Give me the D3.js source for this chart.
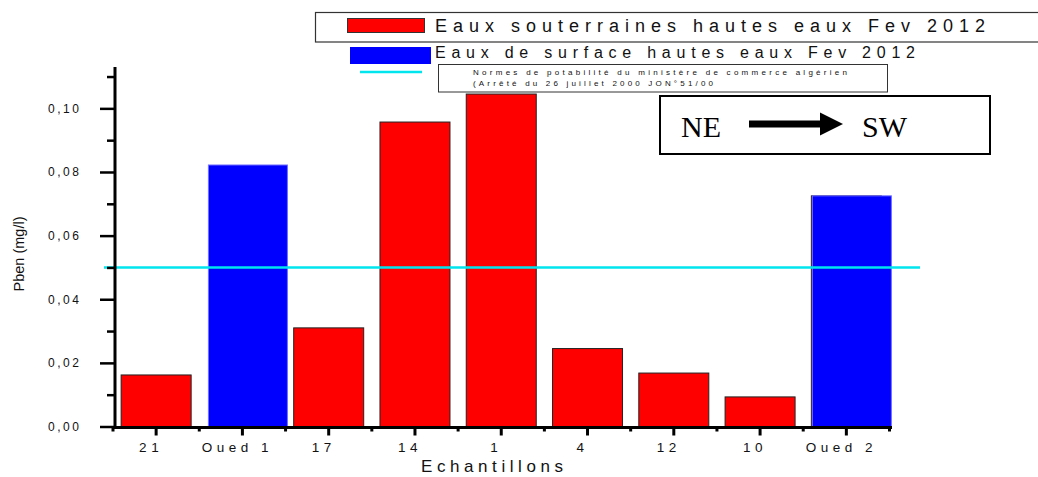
<!DOCTYPE html>
<html>
<head>
<meta charset="utf-8">
<script src="https://cdn.jsdelivr.net/npm/d3@7"></script>
<style>
  html, body { margin: 0; padding: 0; background: #fff; }
  svg { display: block; font-family: "Liberation Sans", Arial, sans-serif; }
</style>
</head>
<body>
<svg id="chart" width="1038" height="477"></svg>
<script>
// ---- data ----
const categories = ["21", "Oued 1", "17", "14", "1", "4", "12", "10", "Oued 2"];
const groundValues = [0.0162, null, 0.0310, 0.0957, 0.1045, 0.0245, 0.0168, 0.0093, 0.0725]; // Eaux souterraines
const surfaceValues = [null, 0.0822, null, null, null, null, null, null, 0.0725];       // Eaux de surface
const normValue = 0.05;
const yMajorTicks = [0, 0.02, 0.04, 0.06, 0.08, 0.10];
const yMinorTicks = [0.01, 0.03, 0.05, 0.07, 0.09, 0.11];
const legendLabels = [
  "Eaux souterraines hautes eaux Fev 2012",
  "Eaux de surface hautes eaux Fev 2012",
  "Normes de potabilité du ministère de commerce algérien",
  "(Arrêté du 26 juillet 2000 JON°51/00"
];
const yTitle = "Pben (mg/l)";
const xTitle = "Echantillons";

// ---- scales ----
const svg = d3.select("#chart");
const x = d3.scaleBand().domain(categories).range([113, 889.5]).padding(0);
const y = d3.scaleLinear().domain([0, 0.113]).range([426.5, 67]);
const fmt = v => d3.format(".2f")(v).replace(".", ",");

// ---- bars ----
const redW = 70, blueW = 79;
svg.append("g").selectAll("rect")
  .data(categories.map((c, i) => ({c, v: groundValues[i]})).filter(d => d.v != null))
  .join("rect")
  .attr("x", d => x(d.c) + x.bandwidth() / 2 - redW / 2)
  .attr("y", d => y(d.v))
  .attr("width", redW)
  .attr("height", d => y(0) - y(d.v))
  .attr("fill", "#ff0000")
  .attr("stroke", "#222")
  .attr("stroke-width", 1);

svg.append("g").selectAll("rect")
  .data(categories.map((c, i) => ({c, v: surfaceValues[i]})).filter(d => d.v != null))
  .join("rect")
  .attr("x", d => x(d.c) + x.bandwidth() / 2 - 34)
  .attr("y", d => y(d.v))
  .attr("width", blueW)
  .attr("height", d => y(0) - y(d.v))
  .attr("fill", "#0000ff")
  .attr("stroke", "#6f6fff")
  .attr("stroke-width", 1);

// ---- norm line ----
svg.append("line")
  .attr("x1", 104).attr("x2", 920)
  .attr("y1", y(normValue)).attr("y2", y(normValue))
  .attr("stroke", "#00e5ee").attr("stroke-width", 2.5);

// ---- y axis ----
const yAxisG = svg.append("g").attr("transform", "translate(115,0)");
yAxisG.call(d3.axisLeft(y).tickValues(yMajorTicks).tickSize(15).tickFormat(fmt))
  .call(g => g.select(".domain").remove());
yAxisG.selectAll(".tick line").attr("stroke", "#000").attr("stroke-width", 2.5);
yAxisG.selectAll(".tick text")
  .attr("x", -36)
  .attr("font-size", 12)
  .attr("fill", "#111")
  .attr("textLength", 31)
  .attr("lengthAdjust", "spacing");
yAxisG.append("g").call(d3.axisLeft(y).tickValues(yMinorTicks).tickSize(8).tickFormat(""))
  .call(g => g.select(".domain").remove())
  .selectAll(".tick line").attr("stroke", "#000").attr("stroke-width", 2.5);
yAxisG.append("line").attr("x1", 0).attr("x2", 0)
  .attr("y1", y(0) + 1).attr("y2", y(0.113))
  .attr("stroke", "#000").attr("stroke-width", 3);

// ---- x axis ----
const xAxisG = svg.append("g").attr("transform", `translate(0,${y(0) + 1})`);
xAxisG.call(d3.axisBottom(x).tickSize(8).tickFormat(d => d))
  .call(g => g.select(".domain").remove());
xAxisG.selectAll(".tick line").attr("stroke", "#000").attr("stroke-width", 3);
xAxisG.selectAll(".tick text")
  .attr("y", 24).attr("dy", 0)
  .attr("dx", -5)
  .attr("font-size", 13.5)
  .attr("letter-spacing", 4.5)
  .attr("fill", "#111");
// minor ticks at band boundaries
const bounds = categories.map(c => x(c)).concat([x.range()[1]]);
xAxisG.append("g").selectAll("line").data(bounds).join("line")
  .attr("x1", d => d).attr("x2", d => d).attr("y1", 0).attr("y2", 4)
  .attr("stroke", "#000").attr("stroke-width", 3);
xAxisG.append("line").attr("x1", 113.5).attr("x2", 892).attr("y1", 0).attr("y2", 0)
  .attr("stroke", "#000").attr("stroke-width", 3);

// ---- axis titles ----
svg.append("text")
  .attr("transform", "translate(24,254) rotate(-90)")
  .attr("text-anchor", "middle")
  .attr("font-size", 14.5)
  .attr("fill", "#111")
  .text(yTitle);
svg.append("text")
  .attr("x", 421).attr("y", 472)
  .attr("font-size", 17)
  .attr("fill", "#111")
  .attr("textLength", 142).attr("lengthAdjust", "spacing")
  .text(xTitle);

// ---- legend ----
const leg = svg.append("g");
leg.append("rect").attr("x", 315.5).attr("y", 12.5).attr("width", 760).attr("height", 29.5)
  .attr("fill", "none").attr("stroke", "#333").attr("stroke-width", 1.2);
leg.append("rect").attr("x", 347.5).attr("y", 18.5).attr("width", 77).attr("height", 14)
  .attr("fill", "#ff0000").attr("stroke", "#333").attr("stroke-width", 1);
leg.append("text").attr("x", 435).attr("y", 32).attr("font-size", 18).attr("fill", "#111")
  .attr("textLength", 550).attr("lengthAdjust", "spacing").text(legendLabels[0]);
leg.append("rect").attr("x", 350).attr("y", 47).attr("width", 81).attr("height", 17)
  .attr("fill", "#0000ff");
leg.append("text").attr("x", 435).attr("y", 58).attr("font-size", 16).attr("fill", "#111")
  .attr("textLength", 480).attr("lengthAdjust", "spacing").text(legendLabels[1]);
leg.append("line").attr("x1", 360).attr("x2", 422).attr("y1", 72).attr("y2", 72)
  .attr("stroke", "#00e5ee").attr("stroke-width", 2.5);
leg.append("rect").attr("x", 438.5).attr("y", 64.5).attr("width", 449).attr("height", 27.5)
  .attr("fill", "#fff").attr("stroke", "#333").attr("stroke-width", 1);
leg.append("text").attr("x", 473).attr("y", 75).attr("font-size", 8).attr("fill", "#111")
  .attr("textLength", 374).attr("lengthAdjust", "spacing").text(legendLabels[2]);
leg.append("text").attr("x", 473).attr("y", 86).attr("font-size", 8).attr("fill", "#111")
  .attr("textLength", 240).attr("lengthAdjust", "spacing").text(legendLabels[3]);

// ---- NE -> SW box ----
const dir = svg.append("g");
dir.append("rect").attr("x", 660).attr("y", 96).attr("width", 330).attr("height", 58)
  .attr("fill", "#fff").attr("stroke", "#000").attr("stroke-width", 2);
dir.append("text").attr("x", 681).attr("y", 137)
  .attr("font-family", "'Liberation Serif', 'Times New Roman', serif")
  .attr("font-size", 30).attr("fill", "#000").text("NE");
dir.append("text").attr("x", 862).attr("y", 137)
  .attr("font-family", "'Liberation Serif', 'Times New Roman', serif")
  .attr("font-size", 30).attr("fill", "#000").text("SW");
dir.append("rect").attr("x", 749).attr("y", 120.5).attr("width", 73).attr("height", 7).attr("fill", "#000");
dir.append("path").attr("d", "M820,112.5 L843,124 L820,135.5 Z").attr("fill", "#000");
</script>
</body>
</html>
